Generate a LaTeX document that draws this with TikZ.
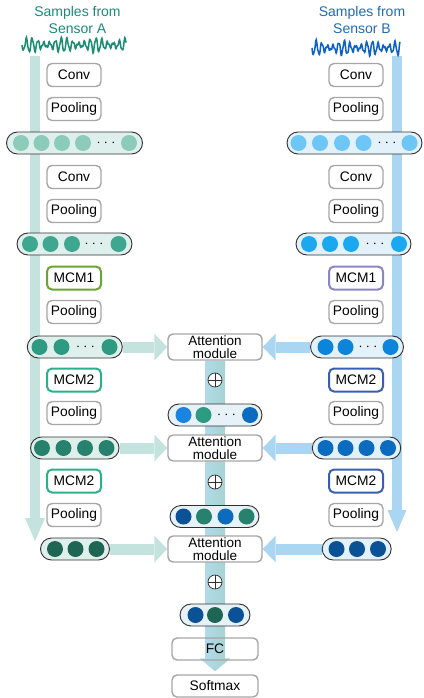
\documentclass[tikz,border=0pt]{standalone}
\usepackage{fontspec}
\setmainfont{Liberation Sans}
\usetikzlibrary{arrows.meta,calc,backgrounds}

\definecolor{boxgray}{HTML}{A6A6A6}
\definecolor{pillline}{HTML}{303030}
\definecolor{titleA}{HTML}{1B8A78}
\definecolor{titleB}{HTML}{1F6BB5}
\definecolor{waveA}{HTML}{1A8C72}
\definecolor{waveB}{HTML}{0B62C4}
\definecolor{barA}{HTML}{C4E3DE}
\definecolor{barB}{HTML}{ABD6F2}
\definecolor{midL}{HTML}{B4DCF0}
\definecolor{midR}{HTML}{A3D2CB}
\definecolor{fillA}{HTML}{DFF0EC}
\definecolor{fillB}{HTML}{E3F1FB}
\definecolor{fillC}{HTML}{E6F2F8}
\definecolor{mcmAa}{HTML}{6AA536}
\definecolor{mcmAb}{HTML}{2BB08A}
\definecolor{mcmBa}{HTML}{8A86C4}
\definecolor{mcmBb}{HTML}{3A5FAE}
\definecolor{cA1}{HTML}{8CCBB9}
\definecolor{cA2}{HTML}{3FA68F}
\definecolor{cA3}{HTML}{2E9A81}
\definecolor{cA4}{HTML}{27826D}
\definecolor{cA5}{HTML}{1E6553}
\definecolor{cB1}{HTML}{6DC6F6}
\definecolor{cB2}{HTML}{1AA9F0}
\definecolor{cB3}{HTML}{0B84DA}
\definecolor{cB4}{HTML}{0B6CBF}
\definecolor{cB5}{HTML}{0B5195}
\definecolor{cC1}{HTML}{1A84E0}

\tikzset{
  title/.style={align=center, font=\fontsize{14}{16.5}\selectfont},
  lbl/.style={draw=boxgray, line width=1.4pt, rounded corners=5pt, fill=white,
    minimum width=54pt, minimum height=23pt, inner sep=0pt,
    font=\fontsize{13.8}{12}\selectfont},
  mcm/.style={lbl, draw=#1, line width=2pt},
  att/.style={lbl, minimum width=94pt, minimum height=26pt, align=center,
    font=\fontsize{13.5}{12.5}\selectfont},
  endbox/.style={lbl, fill=none, minimum width=86pt, minimum height=22pt},
  pill/.style={draw=pillline, line width=0.9pt, rounded corners=11pt,
    minimum height=22pt, inner sep=0pt, fill=#1},
  unit/.style={circle, fill=#1, minimum size=16pt, inner sep=0pt},
  dotsnode/.style={inner sep=0pt, font=\fontsize{13.5}{12}\selectfont},
  oplusnode/.style={circle, draw=pillline, line width=0.7pt, fill=white,
    minimum size=14pt, inner sep=0pt,
    path picture={\draw[line width=0.7pt]
      (path picture bounding box.north) -- (path picture bounding box.south)
      (path picture bounding box.west) -- (path picture bounding box.east);}},
  larrow/.style={line width=11pt, draw=barA,
    -{Triangle[width=27pt,length=13pt,line width=0pt]}},
  rarrow/.style={line width=11pt, draw=barB,
    -{Triangle[width=27pt,length=13pt,line width=0pt]}},
}
\newcommand{\threedots}{$\cdot$\hspace{3.5pt}$\cdot$\hspace{3.5pt}$\cdot$}

\begin{document}
\begin{tikzpicture}[x=1pt,y=-1pt]
\useasboundingbox (0,0) rectangle (423,698);

% titles and raw signals
\node[title, text=titleA] (tA) at (77.5,20) {Samples from\\Sensor A};
\node[title, text=titleB] (tB) at (362,20) {Samples from\\Sensor B};
\draw[waveA, line width=1.5pt] plot[domain=0:104, samples=260, smooth]
  (22+\x, {45+(4.5+2.5*sin(\x*11))*sin(\x*62)+1.3*sin(\x*143)});
\draw[waveB, line width=1.5pt] plot[domain=0:88, samples=230, smooth]
  (312+\x, {48+(4.5+2.5*sin(\x*13+40))*sin(\x*64)+1.3*sin(\x*151)});
\coordinate (a-in) at (35,56);
\coordinate (a-out) at (35,541);
\coordinate (b-in) at (397,56);
\coordinate (b-out) at (397,532);

% branch A
\node[lbl] (a-conv1) at (74,75) {Conv};
\node[lbl] (a-pool1) at (74,109) {Pooling};
\node[pill=fillA, minimum width=136pt] (a1) at (74.5,143) {};
\foreach \x [count=\i] in {21,41.5,62,83,129}
  \node[unit=cA1] (a1-\i) at (\x,143) {};
\node[dotsnode] (a1-d) at (106,143) {\threedots};
\node[lbl] (a-conv2) at (74,177) {Conv};
\node[lbl] (a-pool2) at (74,211) {Pooling};
\node[pill=fillA, minimum width=115pt] (a2) at (74.5,244) {};
\foreach \x [count=\i] in {30,50.5,72,118.5}
  \node[unit=cA2] (a2-\i) at (\x,244) {};
\node[dotsnode] (a2-d) at (94,244) {\threedots};
\node[mcm=mcmAa] (a-mcm1) at (74,278) {MCM1};
\node[lbl] (a-pool3) at (74,312) {Pooling};
\node[pill=fillA, minimum width=95pt] (a3) at (74.8,347) {};
\foreach \x [count=\i] in {39.5,61.5,109.5}
  \node[unit=cA3] (a3-\i) at (\x,347) {};
\node[dotsnode] (a3-d) at (85.5,347) {\threedots};
\node[mcm=mcmAb] (a-mcm2) at (74,380) {MCM2};
\node[lbl] (a-pool4) at (74,413) {Pooling};
\node[pill=fillA, minimum width=88.5pt] (a4) at (74.8,448) {};
\foreach \x [count=\i] in {42,63.5,85,106.5}
  \node[unit=cA4] (a4-\i) at (\x,448) {};
\node[mcm=mcmAb] (a-mcm3) at (74,481) {MCM2};
\node[lbl] (a-pool5) at (74,515) {Pooling};
\node[pill=fillA, minimum width=69pt] (a5) at (75,549) {};
\foreach \x [count=\i] in {55,75.5,96.5}
  \node[unit=cA5] (a5-\i) at (\x,549) {};

% branch B
\node[lbl] (b-conv1) at (356,75) {Conv};
\node[lbl] (b-pool1) at (356,109) {Pooling};
\node[pill=fillB, minimum width=135pt] (b1) at (354.5,143) {};
\foreach \x [count=\i] in {298.5,320,342,363.5,409.5}
  \node[unit=cB1] (b1-\i) at (\x,143) {};
\node[dotsnode] (b1-d) at (387,143) {\threedots};
\node[lbl] (b-conv2) at (356,177) {Conv};
\node[lbl] (b-pool2) at (356,211) {Pooling};
\node[pill=fillB, minimum width=115pt] (b2) at (353.5,244) {};
\foreach \x [count=\i] in {309,330,351,399}
  \node[unit=cB2] (b2-\i) at (\x,244) {};
\node[dotsnode] (b2-d) at (375,244) {\threedots};
\node[mcm=mcmBa] (b-mcm1) at (356,278) {MCM1};
\node[lbl] (b-pool3) at (356,312) {Pooling};
\node[pill=fillB, minimum width=93pt] (b3) at (357,347) {};
\foreach \x [count=\i] in {325.5,345.5,390.5}
  \node[unit=cB3] (b3-\i) at (\x,347) {};
\node[dotsnode] (b3-d) at (368,347) {\threedots};
\node[mcm=mcmBb] (b-mcm2) at (356,380) {MCM2};
\node[lbl] (b-pool4) at (356,413) {Pooling};
\node[pill=fillB, minimum width=88.5pt] (b4) at (356.5,448) {};
\foreach \x [count=\i] in {325.5,345.5,366.5,388}
  \node[unit=cB4] (b4-\i) at (\x,448) {};
\node[mcm=mcmBb] (b-mcm3) at (356,481) {MCM2};
\node[lbl] (b-pool5) at (356,515) {Pooling};
\node[pill=fillB, minimum width=69pt] (b5) at (356.7,549) {};
\foreach \x [count=\i] in {336.5,357,378}
  \node[unit=cB5] (b5-\i) at (\x,549) {};

% fusion
\node[att] (att1) at (215,347) {Attention\\module};
\node[oplusnode] (sum1) at (215,380) {};
\node[pill=fillC, minimum width=94pt] (c1) at (215,415) {};
\node[unit=cC1] (c1-1) at (183.5,415) {};
\node[unit=cA3] (c1-2) at (203.5,415) {};
\node[unit=cB4] (c1-3) at (250,415) {};
\node[dotsnode] (c1-d) at (226.5,415) {\threedots};
\node[att] (att2) at (215,448) {Attention\\module};
\node[oplusnode] (sum2) at (215,482) {};
\node[pill=fillC, minimum width=89pt] (c2) at (214.5,516.5) {};
\foreach \x/\c [count=\i] in {183.5/cB5,204/cA4,225.5/cB4,246.5/cA4}
  \node[unit=\c] (c2-\i) at (\x,516.5) {};
\node[att] (att3) at (215,549) {Attention\\module};
\node[oplusnode] (sum3) at (215,582) {};
\node[pill=fillC, minimum width=70pt] (c3) at (215,615) {};
\foreach \x/\c [count=\i] in {195.5/cB5,215/cA5,236/cB5}
  \node[unit=\c] (c3-\i) at (\x,615) {};
\node[endbox] (fc) at (215,649) {FC};
\node[lbl, minimum width=86pt, minimum height=22pt] (sm) at (215,686) {Softmax};

\begin{scope}[on background layer]
\draw[line width=10pt, barA, -{Triangle[width=20pt,length=23pt,line width=0pt]}] (a-in) -- (a-out);
\draw[line width=10pt, barB, -{Triangle[width=19pt,length=22pt,line width=0pt]}] (b-in) -- (b-out);
\draw[larrow] (a3.east) -- (att1.west);
\draw[larrow] (a4.east) -- (att2.west);
\draw[larrow] (a5.east) -- (att3.west);
\draw[rarrow] (b3.west) -- (att1.east);
\draw[rarrow] (b4.west) -- (att2.east);
\draw[rarrow] (b5.west) -- (att3.east);
\shade[left color=midL, right color=midR]
  ($(att1.south)+(-10,0)$) -- ($(att1.south)+(10,0)$) -- ($(sm.north)+(10,-16)$)
  -- ($(sm.north)+(15.5,-16)$) -- ($(sm.north)+(0,-3)$) -- ($(sm.north)+(-15.5,-16)$)
  -- ($(sm.north)+(-10,-16)$) -- cycle;
\end{scope}
\end{tikzpicture}
\end{document}
